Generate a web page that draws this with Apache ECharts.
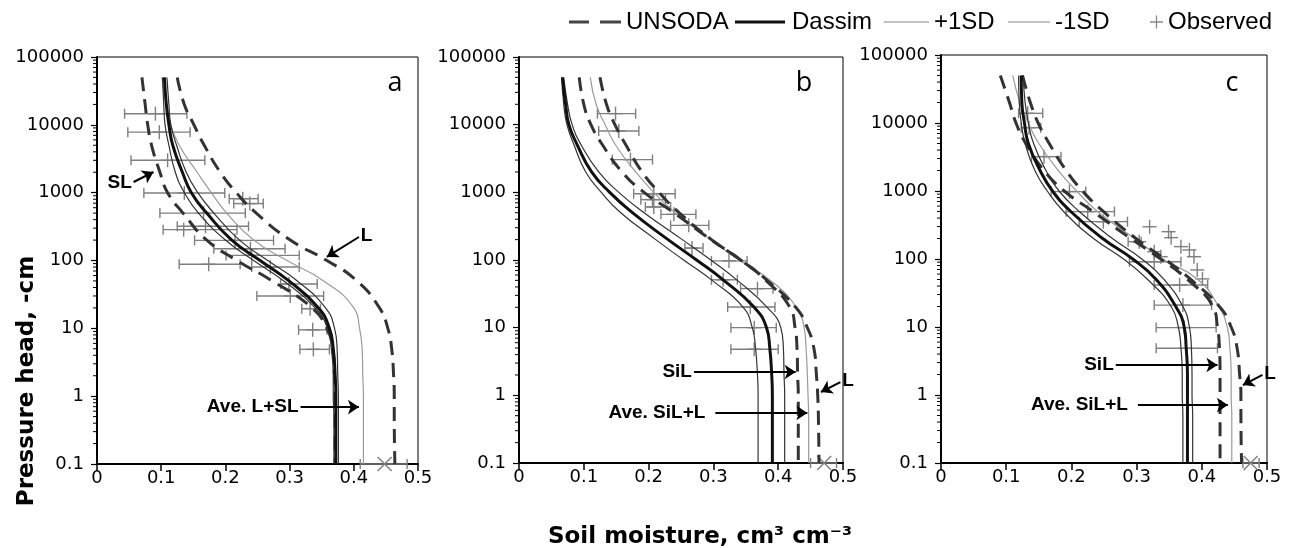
<!DOCTYPE html>
<html><head><meta charset="utf-8">
<script src="https://cdn.jsdelivr.net/npm/echarts@6/dist/echarts.min.js"></script>
<style>html,body{margin:0;padding:0;background:#fff}#c{width:1292px;height:548px}</style>
</head><body><div id="c"></div>
<script>
// pressure heads (cm) at which the curves were read
const heads = [50000,20000,10000,5000,2000,1000,500,200,100,50,20,10,5,2,1,0.5,0.1];
const xTickLabels = ['0','0.1','0.2','0.3','0.4','0.5'];
const yTickLabels = ['0.1','1','10','100','1000','10000','100000'];

// ---- panel a ----
const aDassim = [0.105,0.108,0.112,0.118,0.133,0.147,0.171,0.210,0.254,0.299,0.345,0.362,0.368,0.371,0.372,0.372,0.372];
const aMinus  = [0.102,0.104,0.106,0.112,0.122,0.136,0.158,0.200,0.244,0.291,0.340,0.359,0.365,0.368,0.368,0.369,0.369];
const aPlus   = [0.109,0.112,0.115,0.124,0.139,0.157,0.182,0.222,0.266,0.312,0.356,0.370,0.374,0.375,0.376,0.376,0.376];
const aSL     = [0.070,0.075,0.079,0.085,0.098,0.110,0.134,0.171,0.218,0.273,0.335,0.358,0.367,0.370,0.371,0.371,0.371];
const aL      = [0.125,0.136,0.151,0.167,0.192,0.217,0.248,0.301,0.358,0.405,0.440,0.453,0.459,0.462,0.463,0.463,0.464];
const aAve    = [0.101,0.108,0.115,0.128,0.156,0.178,0.202,0.244,0.296,0.353,0.400,0.409,0.413,0.414,0.415,0.415,0.415];
const aObsH  = [14600,7800,3000,990,815,690,500,320,285,198,149,119,88,80,45,30,19.5,9.5,4.9,0.1];
const aObsT  = [0.091,0.097,0.110,0.136,0.227,0.238,0.166,0.169,0.135,0.215,0.239,0.241,0.174,0.270,0.299,0.301,0.332,0.336,0.337,0.448];
const aObsLo = [0.043,0.048,0.053,0.073,0.206,0.213,0.098,0.125,0.103,0.152,0.182,0.201,0.128,0.241,0.286,0.249,0.319,0.314,0.316,0.410];
const aObsHi = [0.140,0.145,0.168,0.199,0.251,0.259,0.231,0.236,0.218,0.275,0.293,0.315,0.223,0.315,0.343,0.353,0.348,0.358,0.362,0.483];
const aNotes = [['SL',0.057,1436,0.088,2018,2],['L',0.408,222,0.358,113,2],['Ave. L+SL',0.317,0.69,0.408,0.69,2]];

// ---- panel b ----
const bDassim = [0.067,0.072,0.077,0.090,0.112,0.140,0.175,0.230,0.274,0.316,0.363,0.382,0.387,0.390,0.391,0.391,0.391];
const bMinus  = [0.066,0.069,0.074,0.085,0.103,0.127,0.157,0.211,0.254,0.298,0.346,0.360,0.365,0.368,0.369,0.369,0.369];
const bPlus   = [0.069,0.075,0.082,0.096,0.123,0.154,0.193,0.252,0.296,0.337,0.383,0.404,0.408,0.409,0.410,0.410,0.410];
const bSiL    = [0.093,0.100,0.111,0.129,0.159,0.193,0.239,0.296,0.342,0.381,0.418,0.426,0.429,0.430,0.431,0.431,0.431];
const bL      = [0.125,0.135,0.148,0.165,0.190,0.216,0.247,0.297,0.342,0.383,0.427,0.445,0.455,0.459,0.461,0.462,0.463];
const bAve    = [0.110,0.119,0.133,0.149,0.180,0.208,0.241,0.296,0.340,0.388,0.428,0.440,0.443,0.445,0.446,0.447,0.447];
const bObsH  = [14550,8050,3040,955,780,607,473,325,150,97,51,37.7,20.2,10,4.8,0.1];
const bObsT  = [0.149,0.154,0.172,0.208,0.206,0.208,0.239,0.262,0.267,0.324,0.315,0.368,0.357,0.363,0.363,0.471];
const bObsLo = [0.121,0.123,0.144,0.177,0.188,0.195,0.219,0.234,0.256,0.297,0.297,0.342,0.322,0.327,0.327,0.450];
const bObsHi = [0.180,0.185,0.206,0.241,0.226,0.234,0.273,0.293,0.284,0.352,0.337,0.392,0.395,0.397,0.400,0.490];
const bNotes = [['SiL',0.27,2.21,0.427,2.21,2],['Ave. SiL+L',0.303,0.55,0.445,0.55,10],['L',0.496,1.57,0.466,1.12,2]];

// ---- panel c ----
const cDassim = [0.123,0.124,0.128,0.134,0.152,0.171,0.199,0.248,0.294,0.330,0.360,0.373,0.376,0.378,0.378,0.378,0.378];
const cMinus  = [0.119,0.120,0.123,0.129,0.144,0.163,0.188,0.234,0.280,0.317,0.353,0.364,0.368,0.370,0.370,0.371,0.371];
const cPlus   = [0.126,0.129,0.134,0.142,0.161,0.181,0.212,0.263,0.308,0.342,0.371,0.381,0.384,0.385,0.385,0.386,0.386];
const cSiL    = [0.091,0.105,0.115,0.130,0.158,0.189,0.233,0.291,0.337,0.378,0.417,0.424,0.427,0.428,0.428,0.428,0.428];
const cL      = [0.125,0.137,0.149,0.166,0.192,0.217,0.249,0.299,0.343,0.383,0.427,0.445,0.454,0.458,0.460,0.460,0.461];
const cAve    = [0.110,0.121,0.134,0.150,0.180,0.208,0.240,0.297,0.340,0.394,0.426,0.439,0.443,0.445,0.445,0.446,0.446];
const cObsH  = [13870,8530,3200,980,497,354,298,252,206,180,152,136,128,108,108,91,69,51,41.5,21,9.8,4.86,0.1];
const cObsT  = [0.133,0.135,0.158,0.197,0.225,0.249,0.320,0.349,0.353,0.304,0.368,0.381,0.327,0.388,0.337,0.327,0.393,0.401,0.366,0.371,0.373,0.376,0.475];
const cObsLo = [0.119,0.123,0.139,0.169,0.192,0.212,0.320,0.349,0.353,0.287,0.368,0.381,0.327,0.388,0.337,0.289,0.393,0.401,0.327,0.327,0.330,0.330,0.463];
const cObsHi = [0.156,0.153,0.184,0.222,0.266,0.286,0.320,0.349,0.353,0.307,0.368,0.381,0.327,0.388,0.337,0.368,0.393,0.401,0.409,0.415,0.422,0.424,0.488];
const cNotes = [['SiL',0.268,2.76,0.424,2.76,2],['Ave. SiL+L',0.302,0.71,0.44,0.71,10],['L',0.493,1.97,0.463,1.40,2]];

const panelLetters = ['a','b','c'];

const panels = [
  {un:[aSL,aL], das:aDassim, plus:aPlus, minus:aMinus, ave:aAve, oh:aObsH, ot:aObsT, lo:aObsLo, hi:aObsHi, notes:aNotes},
  {un:[bSiL,bL], das:bDassim, plus:bPlus, minus:bMinus, ave:bAve, oh:bObsH, ot:bObsT, lo:bObsLo, hi:bObsHi, notes:bNotes},
  {un:[cSiL,cL], das:cDassim, plus:cPlus, minus:cMinus, ave:cAve, oh:cObsH, ot:cObsT, lo:cObsLo, hi:cObsHi, notes:cNotes}
];

const grids = [
  {left:97, top:57, width:321, height:407},
  {left:519, top:57, width:324, height:406},
  {left:941, top:55, width:326, height:408}
];
const letterPos = [[395,83],[804,83],[1232,83]];

const tickFont = {fontFamily:'DejaVu Sans', fontSize:18, color:'#000'};

// minor tick positions of the log axis (2..9 in every decade)
const minorTicks = [];
for (let k = -1; k <= 4; k++) for (let m = 2; m <= 9; m++) minorTicks.push(+(m * Math.pow(10, k)).toPrecision(3));

const chart = echarts.init(document.getElementById('c'));

function lineSeries(name, arr, gi, color, width, type, z) {
  return {
    type:'line', name, xAxisIndex:gi, yAxisIndex:gi,
    data: arr.map((t,k)=>[t, heads[k]]),
    symbol:'none', showSymbol:false, smooth:0.5,
    lineStyle:{color, width, type}, itemStyle:{color},
    z, silent:true, animation:false
  };
}

const series = [];
panels.forEach((p, gi) => {
  series.push({
    type:'custom', name:'Observed', xAxisIndex:gi, yAxisIndex:gi,
    data: p.ot.map((t,k)=>[t, p.oh[k], p.lo[k], p.hi[k]]),
    encode:{x:0, y:1}, itemStyle:{color:'#808080'}, z:1, silent:true, animation:false,
    renderItem: function(params, api) {
      const t = api.value(0), h = api.value(1), lo = api.value(2), hi = api.value(3);
      const c = api.coord([t, h]);
      const st = {stroke:'#7f7f7f', lineWidth:1.4};
      const ch = [];
      if (hi > lo) {
        const l = api.coord([lo, h]), r = api.coord([hi, h]);
        ch.push({type:'line', shape:{x1:l[0], y1:l[1], x2:r[0], y2:r[1]}, style:st});
        ch.push({type:'line', shape:{x1:l[0], y1:l[1]-5, x2:l[0], y2:l[1]+5}, style:st});
        ch.push({type:'line', shape:{x1:r[0], y1:r[1]-5, x2:r[0], y2:r[1]+5}, style:st});
      }
      if (h <= 0.1) {
        ch.push({type:'line', shape:{x1:c[0]-7, y1:c[1]-7, x2:c[0]+7, y2:c[1]+7}, style:st});
        ch.push({type:'line', shape:{x1:c[0]-7, y1:c[1]+7, x2:c[0]+7, y2:c[1]-7}, style:st});
      } else {
        ch.push({type:'line', shape:{x1:c[0]-7, y1:c[1], x2:c[0]+7, y2:c[1]}, style:st});
        ch.push({type:'line', shape:{x1:c[0], y1:c[1]-7, x2:c[0], y2:c[1]+7}, style:st});
      }
      return {type:'group', children:ch};
    }
  });
  series.push({
    type:'custom', name:'minor', xAxisIndex:gi, yAxisIndex:gi,
    data: minorTicks.map(v=>[0, v]), encode:{x:0, y:1}, silent:true, animation:false, z:5,
    renderItem: function(params, api) {
      const q = api.coord([0, api.value(1)]);
      return {type:'line', shape:{x1:q[0]-4, y1:q[1], x2:q[0], y2:q[1]}, style:{stroke:'#000', lineWidth:1}};
    }
  });
  series.push(lineSeries('Ave', p.ave, gi, '#9a9a9a', 1.2, 'solid', 2));
  series.push(lineSeries('UNSODA', p.un[0], gi, '#333', 3, [14,8], 3));
  series.push(lineSeries('UNSODA', p.un[1], gi, '#333', 3, [14,8], 3));
  series.push(lineSeries('-1SD', p.minus, gi, '#333', 1.2, 'solid', 3));
  series.push(lineSeries('+1SD', p.plus, gi, '#333', 1.2, 'solid', 3));
  const das = lineSeries('Dassim', p.das, gi, '#111', 3, 'solid', 4);
  das.markLine = {
    silent:true, animation:false, symbol:['none','arrow'], symbolSize:11, precision:4,
    lineStyle:{color:'#000', width:2, type:'solid'},
    label:{show:true, position:'start', fontFamily:'Liberation Sans', fontWeight:'bold', fontSize:19, color:'#000'},
    data: p.notes.map(n => [
      {coord:[n[1], n[2]], label:{formatter:n[0], distance:n[5]}},
      {coord:[n[3], n[4]]}
    ])
  };
  series.push(das);
});

const legendText = {fontFamily:'Liberation Sans', fontSize:24, color:'#000'};
const plusIcon = 'path://M6.3,0h1.4v6.3H14v1.4H7.7V14H6.3V7.7H0V6.3h6.3z';
const dashIcon = 'path://M0,0h20v3h-20z M31,0h21v3h-21z';
const barIcon = 'path://M0,0h50v3h-50z';
const thinIcon = 'path://M0,0h50v1h-50z';

const option = {
  backgroundColor:'#fff',
  animation:false,
  grid: grids.map(g => Object.assign({show:true, borderColor:'#000', borderWidth:1, backgroundColor:'transparent'}, g)),
  xAxis: grids.map((g,i)=>({
    gridIndex:i, type:'value', min:0, max:0.5, interval:0.1, position:'bottom',
    axisLine:{show:true, onZero:false, lineStyle:{color:'#000', width:2}},
    axisTick:{show:true, length:7, lineStyle:{color:'#000', width:1.5}},
    axisLabel:Object.assign({margin:5, formatter:v=>xTickLabels[Math.round(v*10)]}, tickFont),
    splitLine:{show:false}
  })),
  yAxis: grids.map((g,i)=>({
    gridIndex:i, type:'log', logBase:10, min:0.1, max:100000, splitNumber:6,
    axisLine:{show:true, onZero:false, lineStyle:{color:'#000', width:2}},
    axisTick:{show:true, length:6, lineStyle:{color:'#000', width:1.2}},
    axisLabel:Object.assign({margin:13, formatter:v=>yTickLabels[Math.round(Math.log10(v))+1]}, tickFont),
    splitLine:{show:false}
  })),
  legend: [
    {left:569, top:10, padding:0, itemWidth:52, itemHeight:3, textStyle:legendText, selectedMode:false,
     data:[{name:'UNSODA', icon:dashIcon, itemStyle:{color:'#444'}}]},
    {left:735, top:10, padding:0, itemWidth:54, itemHeight:3, textStyle:legendText, selectedMode:false,
     data:[{name:'Dassim', icon:barIcon, itemStyle:{color:'#111'}}]},
    {left:884, top:10, padding:0, itemWidth:45, itemHeight:1, textStyle:legendText, selectedMode:false,
     data:[{name:'+1SD', icon:thinIcon, itemStyle:{color:'#888'}}]},
    {left:1008, top:10, padding:0, itemWidth:42, itemHeight:1, textStyle:legendText, selectedMode:false,
     data:[{name:'-1SD', icon:thinIcon, itemStyle:{color:'#888'}}]},
    {left:1150, top:10, padding:0, itemWidth:13, itemHeight:13, textStyle:legendText, selectedMode:false,
     data:[{name:'Observed', icon:plusIcon, itemStyle:{color:'#8a8a8a'}}]}
  ],
  graphic: [
    {type:'text', x:27, y:381, rotation:Math.PI/2, style:{text:'Pressure head, -cm', fontFamily:'DejaVu Sans', fontWeight:'bold', fontSize:23, fill:'#000', align:'center', verticalAlign:'middle'}},
    {type:'text', x:700, y:537, style:{text:'Soil moisture, cm³ cm⁻³', fontFamily:'DejaVu Sans', fontWeight:'bold', fontSize:23, fill:'#000', align:'center', verticalAlign:'middle'}}
  ].concat(panelLetters.map((t,i)=>({type:'text', x:letterPos[i][0], y:letterPos[i][1], style:{text:t, fontFamily:'Open Sans', fontSize:27, fill:'#000', align:'center', verticalAlign:'middle'}}))),
  series
};
chart.setOption(option);
</script>
</body></html>
